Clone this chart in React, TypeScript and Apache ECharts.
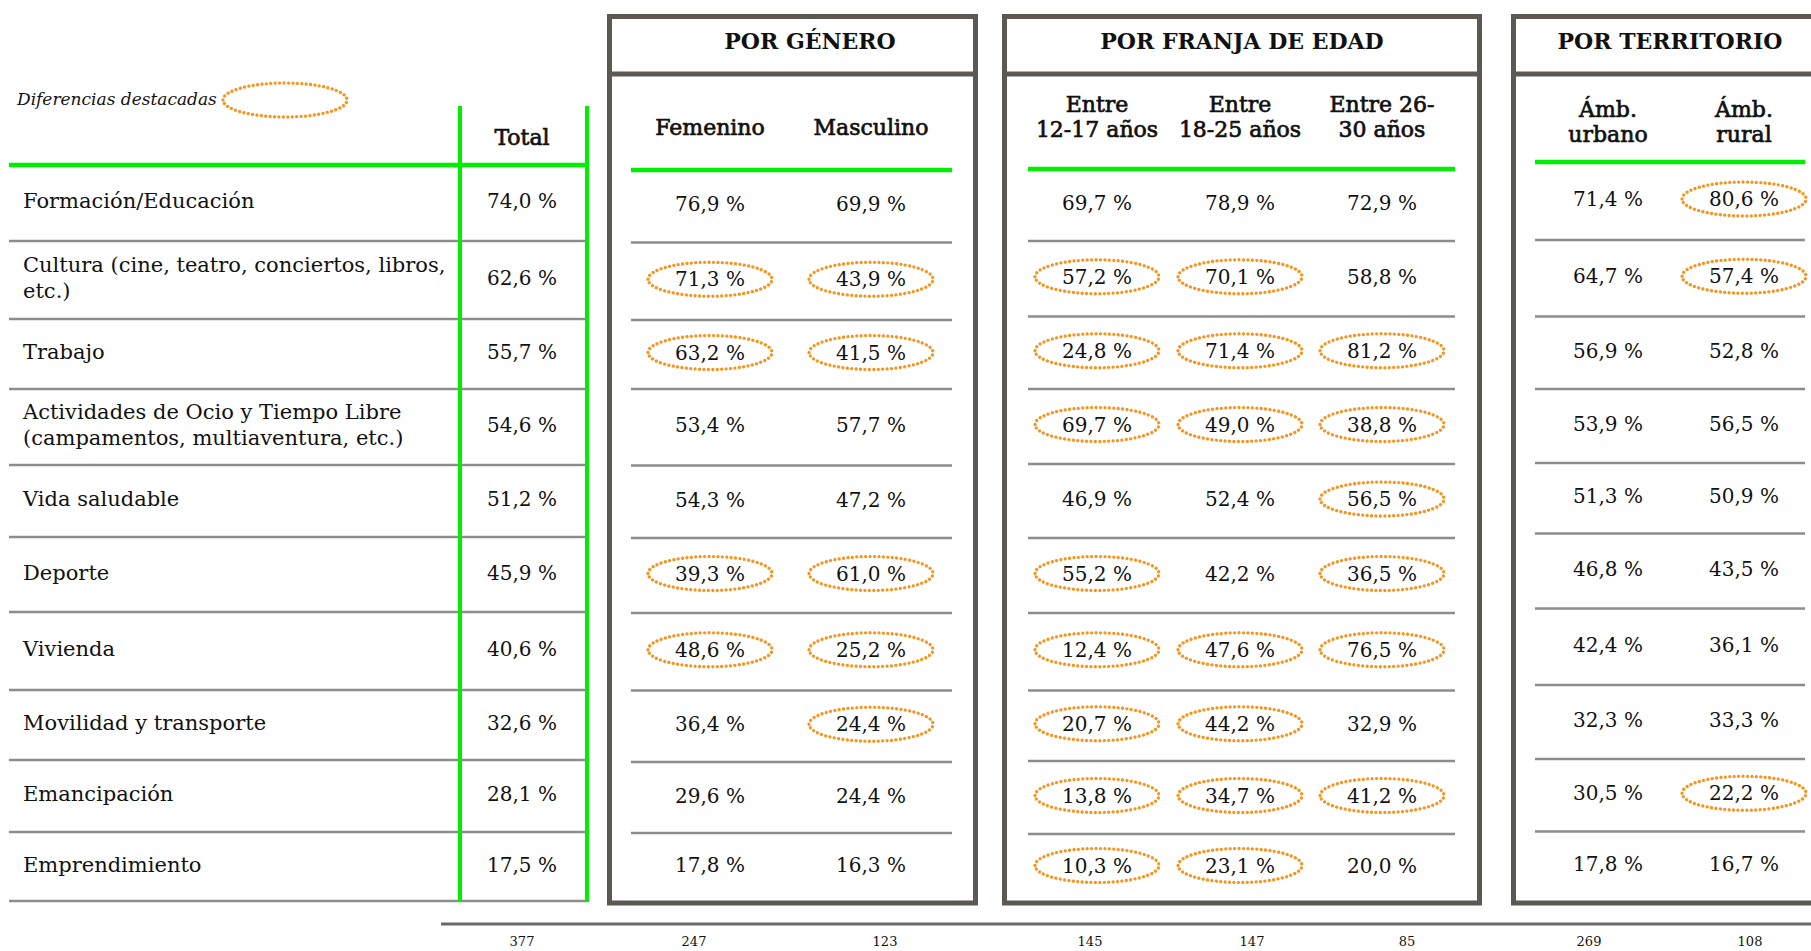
import React, { useEffect, useRef } from 'react';
import * as echarts from 'echarts';

// ---------- DATA ----------
const CATEGORIES = [
  'Formación/Educación',
  'Cultura (cine, teatro, conciertos, libros,\netc.)',
  'Trabajo',
  'Actividades de Ocio y Tiempo Libre\n(campamentos, multiaventura, etc.)',
  'Vida saludable',
  'Deporte',
  'Vivienda',
  'Movilidad y transporte',
  'Emancipación',
  'Emprendimiento',
];
const COLUMN_HEADERS = [
  'Total',
  'Femenino',
  'Masculino',
  'Entre\n12-17 años',
  'Entre\n18-25 años',
  'Entre 26-\n30 años',
  'Ámb.\nurbano',
  'Ámb.\nrural',
];
const GROUP_TITLES = ['POR GÉNERO', 'POR FRANJA DE EDAD', 'POR TERRITORIO'];
const LEGEND_LABEL = 'Diferencias destacadas';

const TOTAL = [74.0, 62.6, 55.7, 54.6, 51.2, 45.9, 40.6, 32.6, 28.1, 17.5];
const FEMENINO = [76.9, 71.3, 63.2, 53.4, 54.3, 39.3, 48.6, 36.4, 29.6, 17.8];
const MASCULINO = [69.9, 43.9, 41.5, 57.7, 47.2, 61.0, 25.2, 24.4, 24.4, 16.3];
const EDAD_12_17 = [69.7, 57.2, 24.8, 69.7, 46.9, 55.2, 12.4, 20.7, 13.8, 10.3];
const EDAD_18_25 = [78.9, 70.1, 71.4, 49.0, 52.4, 42.2, 47.6, 44.2, 34.7, 23.1];
const EDAD_26_30 = [72.9, 58.8, 81.2, 38.8, 56.5, 36.5, 76.5, 32.9, 41.2, 20.0];
const URBANO = [71.4, 64.7, 56.9, 53.9, 51.3, 46.8, 42.4, 32.3, 30.5, 17.8];
const RURAL = [80.6, 57.4, 52.8, 56.5, 50.9, 43.5, 36.1, 33.3, 22.2, 16.7];

// highlighted differences (1 = orange dotted ellipse)
const HL_TOTAL = [0, 0, 0, 0, 0, 0, 0, 0, 0, 0];
const HL_FEMENINO = [0, 1, 1, 0, 0, 1, 1, 0, 0, 0];
const HL_MASCULINO = [0, 1, 1, 0, 0, 1, 1, 1, 0, 0];
const HL_EDAD_12_17 = [0, 1, 1, 1, 0, 1, 1, 1, 1, 1];
const HL_EDAD_18_25 = [0, 1, 1, 1, 0, 0, 1, 1, 1, 1];
const HL_EDAD_26_30 = [0, 0, 1, 1, 1, 1, 1, 0, 1, 0];
const HL_URBANO = [0, 0, 0, 0, 0, 0, 0, 0, 0, 0];
const HL_RURAL = [1, 1, 0, 0, 0, 0, 0, 0, 1, 0];

const SAMPLE_SIZES = [377, 247, 123, 145, 147, 85, 269, 108];

const COLUMNS = [TOTAL, FEMENINO, MASCULINO, EDAD_12_17, EDAD_18_25, EDAD_26_30, URBANO, RURAL];
const HIGHLIGHTS = [HL_TOTAL, HL_FEMENINO, HL_MASCULINO, HL_EDAD_12_17, HL_EDAD_18_25, HL_EDAD_26_30, HL_URBANO, HL_RURAL];

// ---------- LAYOUT ----------
const W = 1811;
const H = 951;
const FONT = '"DejaVu Serif", serif';
const GREEN = '#00ee00';
const GRAY_LINE = '#8c8c8c';
const BOX = '#5c5852';
const ORANGE = '#f7941d';
const TEXT = '#111111';

const COL_X = [522, 710, 871, 1097, 1240, 1382, 1608, 1744];
const COL_GROUP = [0, 1, 1, 2, 2, 2, 3, 3];
const COUNT_X = [522, 694, 885, 1090, 1252, 1407, 1589, 1750];
const HEADER_Y = [137, 127, 127, 117, 117, 117, 122, 122];

// row boundaries per group: first = green header line, rest = separators
const ROW_LINES = [
  [165, 241, 319, 389, 465, 537, 612, 690, 760, 832, 901],
  [170, 242.5, 320, 389, 465.5, 538, 613, 690.5, 762, 833, 901],
  [169, 241, 316.5, 389, 464, 538, 613, 690.5, 761, 834, 901],
  [162, 240, 316.5, 389, 463, 533.5, 608.5, 685, 759, 831.5, 901],
];
// horizontal extent of the row lines per group
const ROW_SPAN = [
  [9, 587],
  [631, 952],
  [1028, 1455],
  [1535, 1805],
];
const BOXES = [
  { l: 609.5, r: 975.5, title: 810 },
  { l: 1004.5, r: 1479.5, title: 1242 },
  { l: 1513.5, r: 1840, title: 1670 },
];
const BOX_TOP = 16.5;
const BOX_BOTTOM = 903;
const BOX_DIV = 74;

const DOTTED = { fill: 'none', stroke: ORANGE, lineWidth: 3.3, lineDash: [0.01, 4.4], lineCap: 'round' };

const rowCenter = (g: number, r: number) => (ROW_LINES[g][r] + ROW_LINES[g][r + 1]) / 2 - 2;
const fmt = (v: number) => v.toFixed(1).replace('.', ',') + ' %';

export default function App() {
  const ref = useRef<HTMLDivElement>(null);

  useEffect(() => {
    if (!ref.current) return;
    const chart = echarts.init(ref.current, null, { renderer: 'svg', width: W, height: H });

    const cellData: number[][] = [];
    COLUMNS.forEach((col, c) => {
      col.forEach((v, r) => {
        cellData.push([c, r, v, HIGHLIGHTS[c][r]]);
      });
    });
    const labelData = CATEGORIES.map((_, r) => [0, r]);

    const graphics: any[] = [];

    // legend
    graphics.push({
      type: 'text',
      x: 17,
      y: 99,
      style: {
        text: LEGEND_LABEL,
        font: `italic 17px ${FONT}`,
        fill: TEXT,
        align: 'left',
        verticalAlign: 'middle',
      },
    });
    graphics.push({
      type: 'ellipse',
      shape: { cx: 285, cy: 100, rx: 62, ry: 17 },
      style: { ...DOTTED },
    });

    // row separator lines
    ROW_LINES.forEach((lines, g) => {
      const [x1, x2] = ROW_SPAN[g];
      lines.forEach((y, i) => {
        if (i === 0) return;
        if (g > 0 && i === lines.length - 1) return;
        graphics.push({
          type: 'line',
          shape: { x1, y1: y, x2, y2: y },
          style: { stroke: GRAY_LINE, lineWidth: 2.5 },
        });
      });
    });
    // green header lines
    ROW_LINES.forEach((lines, g) => {
      const [x1, x2] = ROW_SPAN[g];
      graphics.push({
        type: 'line',
        shape: { x1, y1: lines[0], x2: g === 0 ? 589 : x2, y2: lines[0] },
        style: { stroke: GREEN, lineWidth: 4.5 },
        z: 5,
      });
    });
    // green verticals around Total
    [460, 587].forEach((x) => {
      graphics.push({
        type: 'line',
        shape: { x1: x, y1: 106, x2: x, y2: 902 },
        style: { stroke: GREEN, lineWidth: 4 },
        z: 5,
      });
    });

    // group boxes
    BOXES.forEach((b, i) => {
      graphics.push({
        type: 'rect',
        shape: { x: b.l, y: BOX_TOP, width: b.r - b.l, height: BOX_BOTTOM - BOX_TOP },
        style: { fill: 'none', stroke: BOX, lineWidth: 5 },
        z: 6,
      });
      graphics.push({
        type: 'line',
        shape: { x1: b.l, y1: BOX_DIV, x2: b.r, y2: BOX_DIV },
        style: { stroke: BOX, lineWidth: 5 },
        z: 6,
      });
      graphics.push({
        type: 'text',
        x: b.title,
        y: 41,
        style: {
          text: GROUP_TITLES[i],
          font: `bold 22px ${FONT}`,
          fill: TEXT,
          align: 'center',
          verticalAlign: 'middle',
        },
      });
    });

    // column headers (semi-bold look: regular weight with a thin stroke)
    COLUMN_HEADERS.forEach((h, c) => {
      graphics.push({
        type: 'text',
        x: COL_X[c],
        y: HEADER_Y[c],
        style: {
          text: h,
          font: `22px ${FONT}`,
          lineHeight: 25,
          fill: TEXT,
          stroke: TEXT,
          lineWidth: 0.7,
          align: 'center',
          verticalAlign: 'middle',
        },
      });
    });

    // bottom line + sample sizes
    graphics.push({
      type: 'line',
      shape: { x1: 441, y1: 924, x2: W, y2: 924 },
      style: { stroke: '#6a6a6a', lineWidth: 3 },
    });
    SAMPLE_SIZES.forEach((n, c) => {
      graphics.push({
        type: 'text',
        x: COUNT_X[c],
        y: 941,
        style: {
          text: String(n),
          font: `13px ${FONT}`,
          fill: TEXT,
          align: 'center',
          verticalAlign: 'middle',
        },
      });
    });

    chart.setOption({
      animation: false,
      backgroundColor: '#ffffff',
      grid: { left: 0, right: 0, top: 0, bottom: 0, containLabel: false },
      xAxis: { type: 'value', min: 0, max: W, show: false },
      yAxis: { type: 'value', min: 0, max: H, inverse: true, show: false },
      graphic: { elements: graphics },
      series: [
        {
          type: 'custom',
          name: 'categorias',
          coordinateSystem: 'cartesian2d',
          data: labelData,
          silent: true,
          z: 10,
          renderItem: (params: any, api: any) => {
            const r = api.value(1);
            const pt = api.coord([23, rowCenter(0, r)]);
            return {
              type: 'text',
              x: pt[0],
              y: pt[1],
              style: {
                text: CATEGORIES[r],
                font: `21px ${FONT}`,
                lineHeight: 26,
                fill: TEXT,
                align: 'left',
                verticalAlign: 'middle',
              },
            };
          },
        },
        {
          type: 'custom',
          name: 'valores',
          coordinateSystem: 'cartesian2d',
          data: cellData,
          silent: true,
          z: 10,
          renderItem: (params: any, api: any) => {
            const c = api.value(0);
            const r = api.value(1);
            const v = api.value(2);
            const hl = api.value(3);
            const pt = api.coord([COL_X[c], rowCenter(COL_GROUP[c], r)]);
            const children: any[] = [];
            if (hl) {
              children.push({
                type: 'ellipse',
                shape: { cx: pt[0], cy: pt[1], rx: 62, ry: 17 },
                style: { ...DOTTED },
              });
            }
            children.push({
              type: 'text',
              x: pt[0],
              y: pt[1],
              style: {
                text: fmt(v),
                font: `20px ${FONT}`,
                fill: TEXT,
                align: 'center',
                verticalAlign: 'middle',
              },
            });
            return { type: 'group', children };
          },
        },
      ],
    });

    return () => {
      chart.dispose();
    };
  }, []);

  return (
    <div
      ref={ref}
      style={{ position: 'fixed', left: 0, top: 0, width: W, height: H, background: '#fff' }}
    />
  );
}
